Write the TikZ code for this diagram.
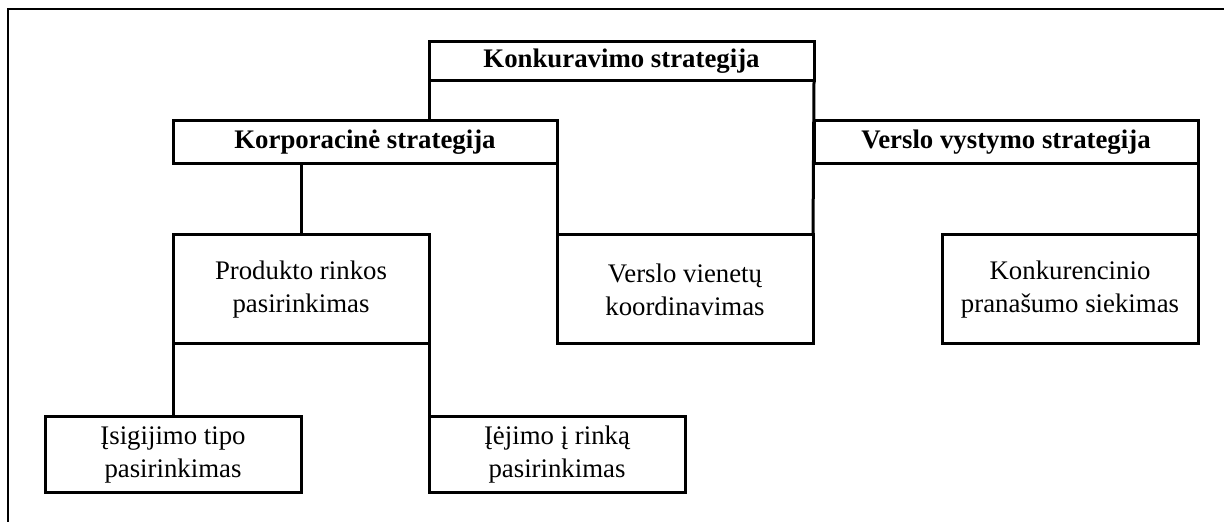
\documentclass[tikz,border=0pt]{standalone}
\usepackage{fontspec}
\setmainfont{Liberation Serif}
\usepackage{tikz}
\usetikzlibrary{positioning}

\begin{document}
\begin{tikzpicture}[x=0.5pt,y=-0.5pt,
                titlebox/.style={draw=black, line width=1.5pt, anchor=north west, inner sep=0pt, outer sep=0pt,
                        minimum width=192pt, minimum height=21.5pt, font=\bfseries\fontsize{13.4}{16}\selectfont},
                itembox/.style={draw=black, line width=1.5pt, anchor=north west, inner sep=0pt, outer sep=0pt,
                        minimum width=128pt, minimum height=54.5pt, align=center, font=\fontsize{13.4}{16.5}\selectfont},
                lowbox/.style={itembox, minimum height=38pt},
                link/.style={black, line width=1.5pt}]
                \useasboundingbox (0,0) rectangle (1224,522);
                \draw [black, line width=1pt] (8,522) -- (8,9) -- (1224,9);
                \node [titlebox, minimum width=192.5pt, minimum height=19.5pt] (konk) at (429,42) {Konkuravimo strategija};
                \node [titlebox] (korp) at (173,120.5) {Korporacinė strategija};
                \node [titlebox] (vyst) at (814,120.5) {Verslo vystymo strategija};
                \node [itembox] (prod) at (173,235) {Produkto rinkos\\pasirinkimas};
                \node [itembox] (vien) at (557,235) {Verslo vienetų\\koordinavimas};
                \node [itembox] (pran) at (942,235) {Konkurencinio\\pranašumo siekimas};
                \node [lowbox] (isig) at (45,417) {Įsigijimo tipo\\pasirinkimas};
                \node [lowbox] (ieji) at (429,417) {Įėjimo į rinką\\pasirinkimas};
                \draw [link] (konk.south west) -- (konk.south west |- korp.north);
                \draw [link] (konk.south east) -- (vien.north east);
                \draw [link] (prod.north) -- (prod.north |- korp.south);
                \draw [link] (korp.south east) -- (vien.north west);
                \draw [link] (vyst.south east) -- (pran.north east);
                \draw [link] (prod.south west) -- (isig.north);
                \draw [link] (prod.south east) -- (ieji.north west);
\end{tikzpicture}
\end{document}
